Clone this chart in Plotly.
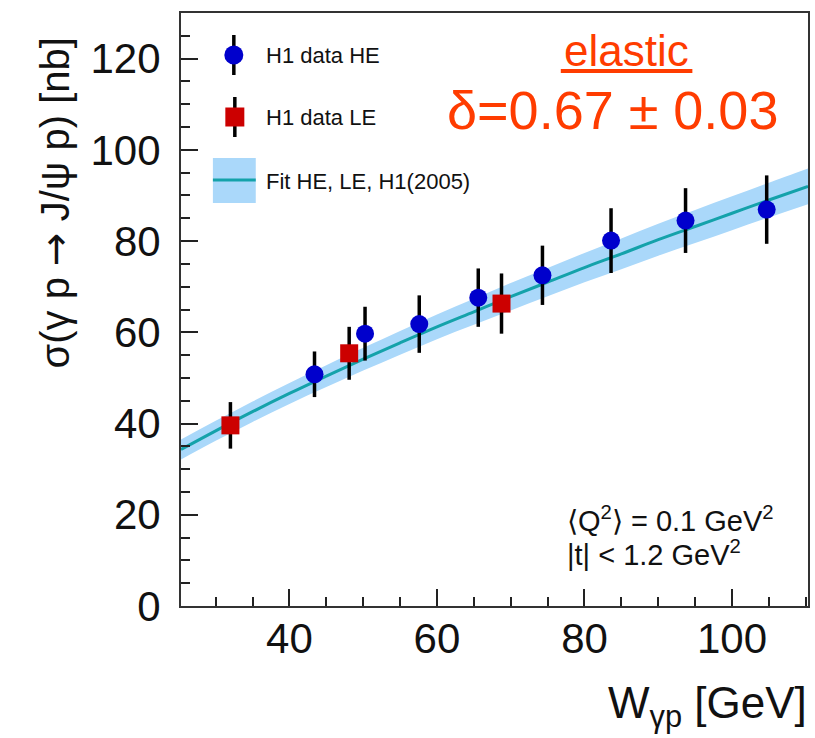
import plotly.graph_objects as go

# ---------------- data ----------------
he_w = [43.4, 50.25, 57.6, 65.6, 74.3, 83.6, 93.7, 104.7]
he_sigma = [50.8, 59.7, 61.8, 67.6, 72.5, 80.1, 84.5, 86.9]
he_err = [5.0, 5.9, 6.3, 6.4, 6.5, 7.1, 7.1, 7.5]

le_w = [32.0, 48.1, 68.75]
le_sigma = [39.6, 55.4, 66.3]
le_err = [5.1, 5.8, 6.6]

fit_w = [25.3, 30, 35, 40, 45, 50, 55, 60, 65, 70, 75, 80, 85, 90, 95, 100, 105, 110.3]
fit_sigma = [34.3, 38.4, 42.6, 46.6, 50.4, 54.1, 57.7, 61.2, 64.5, 67.8, 71.0, 74.2,
             77.2, 80.3, 83.2, 86.1, 89.0, 92.0]
fit_half = [2.2, 2.2, 2.25, 2.3, 2.4, 2.5, 2.6, 2.7, 2.85, 3.0, 3.1, 3.2, 3.35, 3.5,
            3.6, 3.7, 3.8, 3.9]

x_ticks = [40, 60, 80, 100]
y_ticks = [0, 20, 40, 60, 80, 100, 120]

# ---------------- styles ----------------
FONT = "Liberation Sans, Arial, sans-serif"
BAND = "rgb(170,216,250)"
LINE = "rgb(20,162,170)"
BLUE = "#0000cc"
RED = "#cc0000"
ORANGE = "#ff3c00"

# plot area in pixels (for placing decorations)
L, R, T, B = 181, 810, 13, 606


def px(x):
    return (x - L) / (R - L)


def py(y):
    return (B - y) / (B - T)


fig = go.Figure()

band_upper = [s + h for s, h in zip(fit_sigma, fit_half)]
band_lower = [s - h for s, h in zip(fit_sigma, fit_half)]

fig.add_trace(go.Scatter(x=fit_w, y=band_upper, mode="lines", line=dict(width=0, shape="spline"),
                         hoverinfo="skip", showlegend=False))
fig.add_trace(go.Scatter(x=fit_w, y=band_lower, mode="lines", line=dict(width=0, shape="spline"),
                         fill="tonexty", fillcolor=BAND, hoverinfo="skip", showlegend=False))
fig.add_trace(go.Scatter(x=fit_w, y=fit_sigma, mode="lines",
                         line=dict(color=LINE, width=3, shape="spline"), showlegend=False))

fig.add_trace(go.Scatter(x=he_w, y=he_sigma, mode="markers",
                         marker=dict(symbol="circle", size=18, color=BLUE),
                         error_y=dict(type="data", array=he_err, color="black", thickness=3.5, width=0),
                         showlegend=False))
fig.add_trace(go.Scatter(x=le_w, y=le_sigma, mode="markers",
                         marker=dict(symbol="square", size=18, color=RED),
                         error_y=dict(type="data", array=le_err, color="black", thickness=3.5, width=0),
                         showlegend=False))

# ---------------- manual legend on pixel-space overlay axes ----------------
fig.add_trace(go.Scatter(x=[234], y=[55], xaxis="x2", yaxis="y2", mode="markers",
                         marker=dict(symbol="circle", size=19, color=BLUE),
                         error_y=dict(type="constant", value=20, color="black", thickness=3.5, width=0),
                         showlegend=False, hoverinfo="skip"))
fig.add_trace(go.Scatter(x=[235], y=[117], xaxis="x2", yaxis="y2", mode="markers",
                         marker=dict(symbol="square", size=19, color=RED),
                         error_y=dict(type="constant", value=20, color="black", thickness=3.5, width=0),
                         showlegend=False, hoverinfo="skip"))

shapes = [
    dict(type="rect", xref="x2", yref="y2", x0=213, x1=256, y0=158, y1=203,
         fillcolor=BAND, line=dict(width=0), layer="below"),
    dict(type="line", xref="x2", yref="y2", x0=213, x1=256, y0=180, y1=180,
         line=dict(color=LINE, width=3)),
    dict(type="line", xref="x2", yref="y2", x0=562, x1=694, y0=71, y1=71,
         line=dict(color=ORANGE, width=4)),
]

ann = []
for txt, yy in [("H1 data HE", 55), ("H1 data LE", 117), ("Fit HE, LE, H1(2005)", 181)]:
    ann.append(dict(text=txt, xref="x2", yref="y2", x=264, y=yy, xanchor="left", yanchor="middle",
                    showarrow=False, font=dict(family=FONT, size=22, color="#111111")))

ann += [
    dict(text="elastic", xref="x2", yref="y2", x=628, y=50, xanchor="center", yanchor="middle",
         showarrow=False, font=dict(family=FONT, size=44, color=ORANGE)),
    dict(text="δ=0.67 ± 0.03", xref="x2", yref="y2", x=614, y=110, xanchor="center", yanchor="middle",
         showarrow=False, font=dict(family=FONT, size=54, color=ORANGE)),
    dict(text="⟨Q<sup>2</sup>⟩ = 0.1 GeV<sup>2</sup>", xref="x2", yref="y2", x=566, y=519,
         xanchor="left", yanchor="middle", showarrow=False,
         font=dict(family=FONT, size=29, color="#111111")),
    dict(text="|t| < 1.2 GeV<sup>2</sup>", xref="x2", yref="y2", x=566, y=553,
         xanchor="left", yanchor="middle", showarrow=False,
         font=dict(family=FONT, size=29, color="#111111")),
    dict(text="σ(γ p <span style=\"font-family:DejaVu Sans\">→</span> J/ψ p) [nb]",
         xref="paper", yref="paper", x=px(55), y=py(203), textangle=-90,
         xanchor="center", yanchor="middle", showarrow=False,
         font=dict(family=FONT, size=40, color="#111111")),
    dict(text="W<sub>γp</sub> [GeV]", xref="paper", yref="paper", x=px(811), y=py(706),
         xanchor="right", yanchor="middle", showarrow=False,
         font=dict(family=FONT, size=44, color="#111111")),
]

fig.update_layout(
    width=815, height=738,
    margin=dict(l=L, r=815 - R, t=T, b=738 - B),
    paper_bgcolor="white", plot_bgcolor="white",
    showlegend=False,
    shapes=shapes, annotations=ann,
    xaxis=dict(range=[25.3, 110.3], tickvals=x_ticks, ticktext=[str(v) for v in x_ticks],
               ticks="inside", ticklen=17, tickwidth=2, tickcolor="#222",
               minor=dict(dtick=5, ticks="inside", ticklen=9, tickwidth=2, tickcolor="#222"),
               showline=True, linecolor="#333", linewidth=2, mirror=True,
               showgrid=False, zeroline=False,
               tickfont=dict(family=FONT, size=42, color="#111111"), ticklabelstandoff=-5),
    yaxis=dict(range=[0, 130], tickvals=y_ticks, ticktext=[str(v) for v in y_ticks],
               ticks="inside", ticklen=17, tickwidth=2, tickcolor="#222",
               minor=dict(dtick=5, ticks="inside", ticklen=9, tickwidth=2, tickcolor="#222"),
               showline=True, linecolor="#333", linewidth=2, mirror=True,
               showgrid=False, zeroline=False,
               tickfont=dict(family=FONT, size=42, color="#111111"), ticklabelstandoff=10),
    xaxis2=dict(range=[L, R], overlaying="x", anchor="y2", visible=False, fixedrange=True),
    yaxis2=dict(range=[B, T], overlaying="y", anchor="x2", visible=False, fixedrange=True),
)

fig.write_html("out.html")
